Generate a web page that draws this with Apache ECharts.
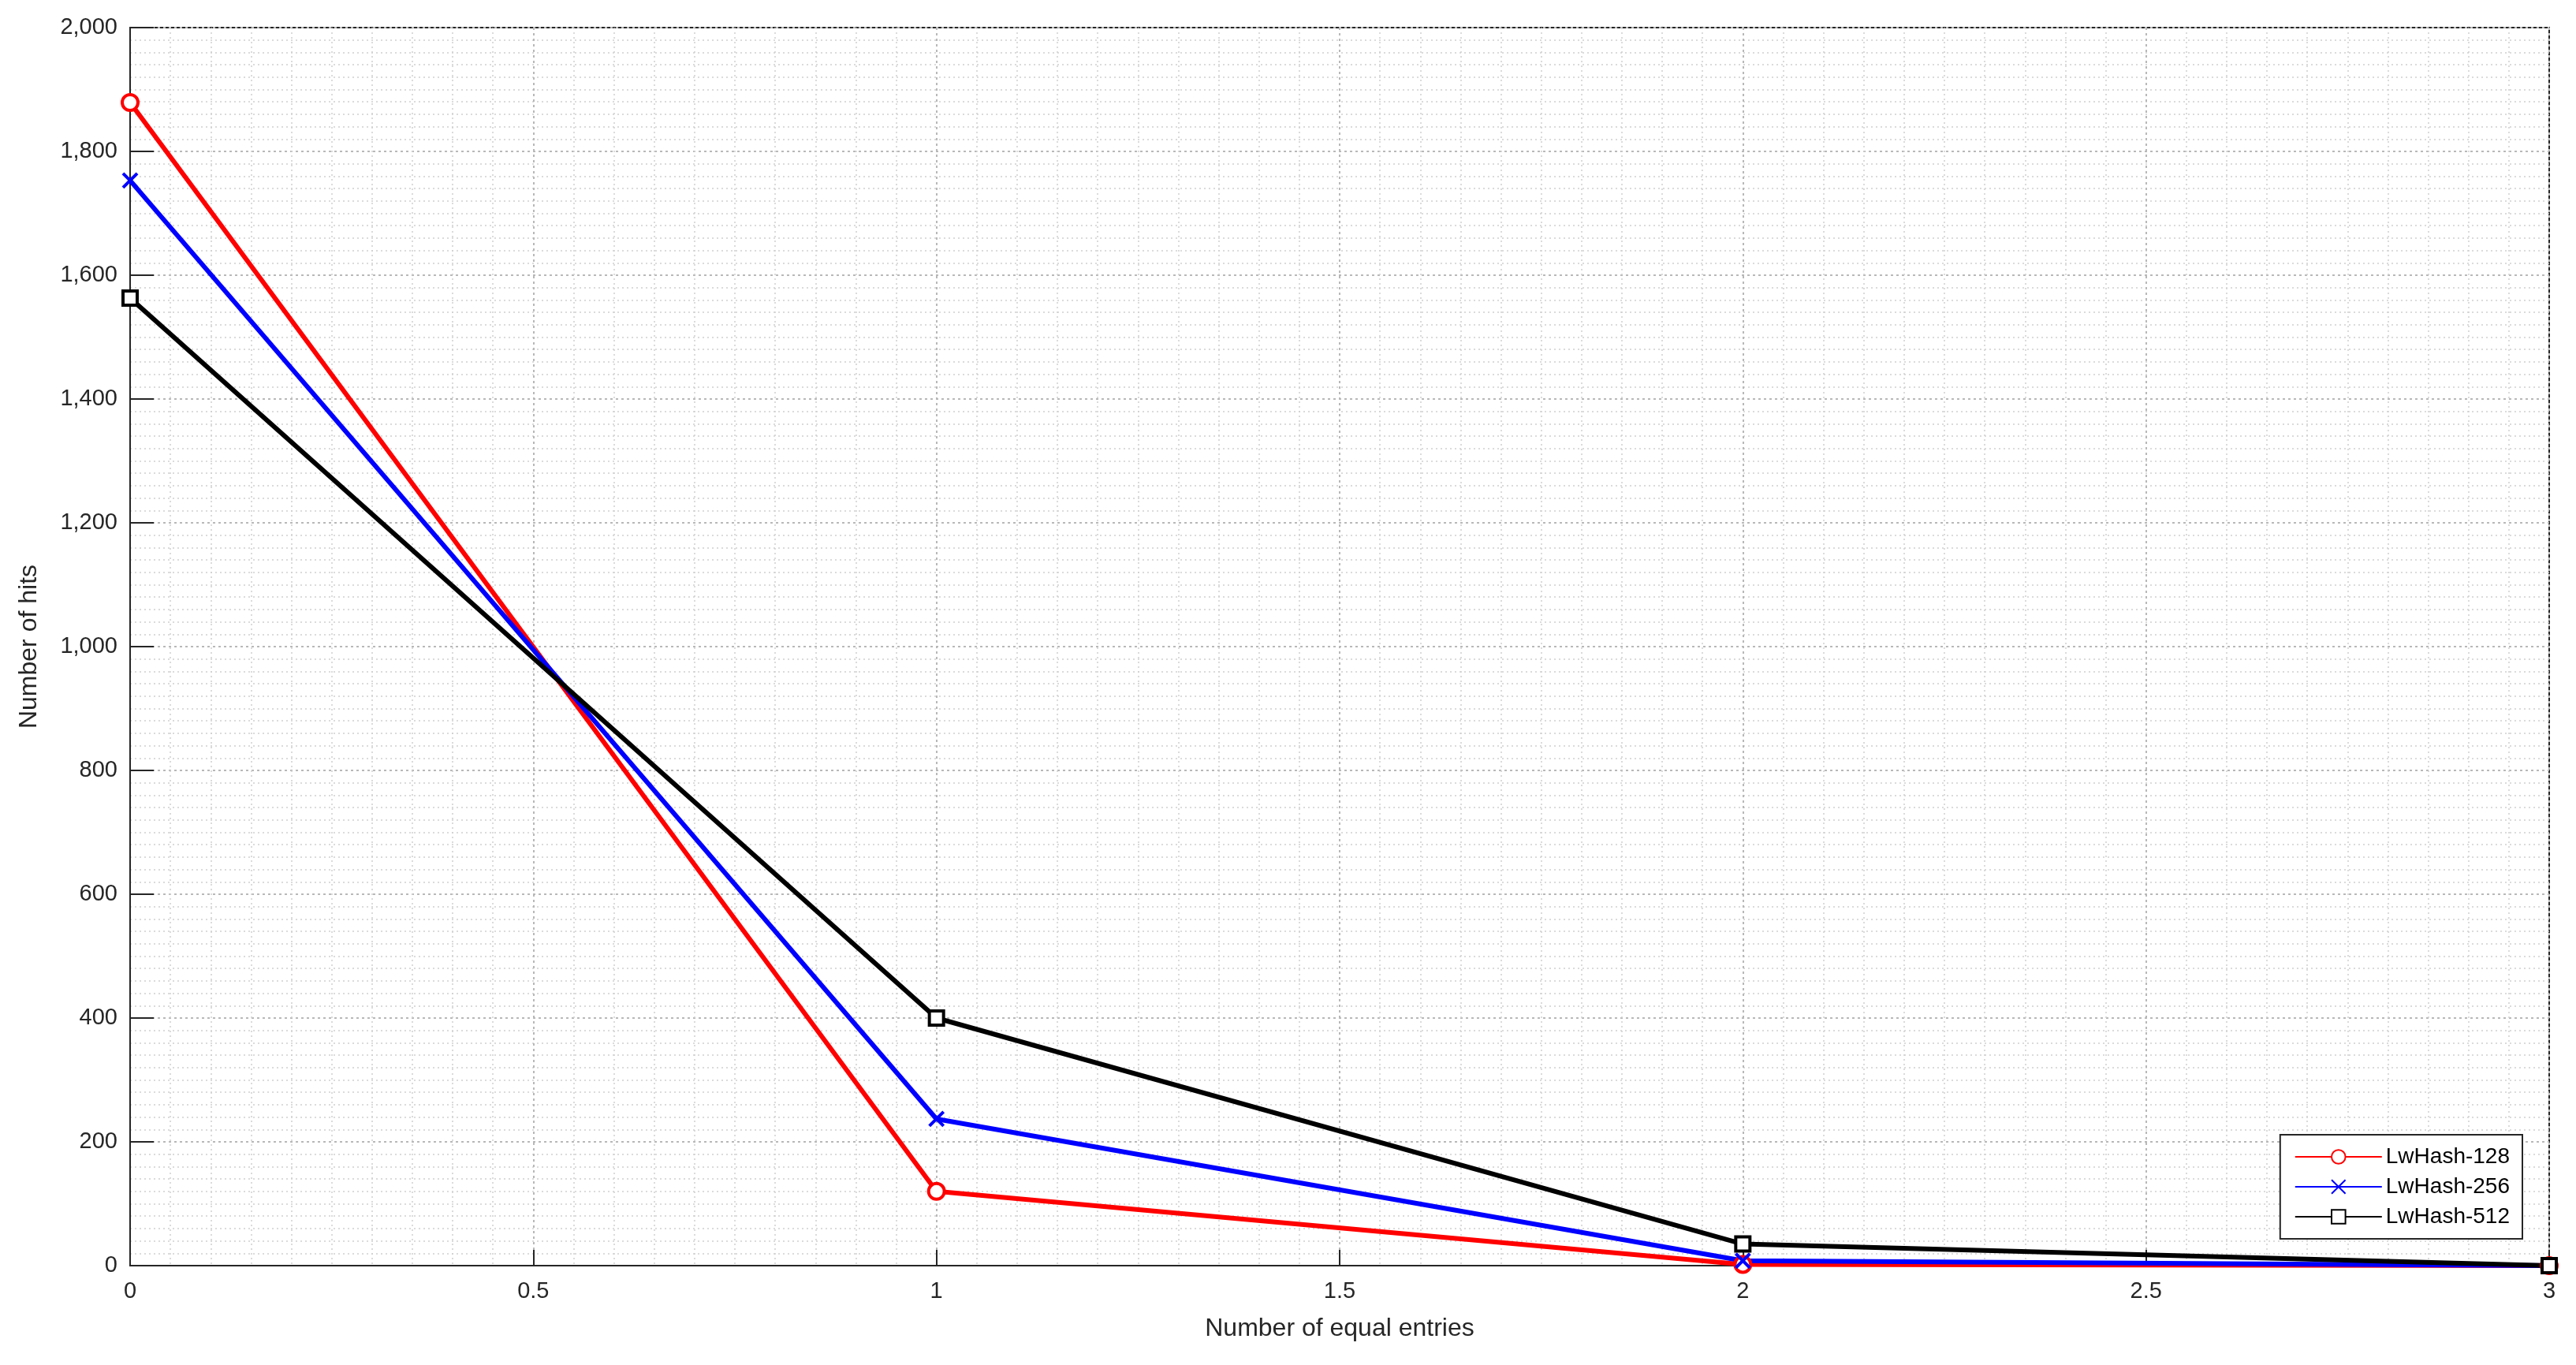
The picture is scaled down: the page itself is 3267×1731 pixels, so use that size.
<!DOCTYPE html>
<html>
<head>
<meta charset="utf-8">
<script src="https://cdn.jsdelivr.net/npm/echarts@6/dist/echarts.min.js"></script>
<style>html,body{margin:0;padding:0;background:#fff}#chart{width:3267px;height:1731px}</style>
</head>
<body>
<div id="chart"></div>
<script>
var entries = [0, 1, 2, 3];
var lw128 = [1879, 120, 2, 0];
var lw256 = [1753, 237, 8, 0];
var lw512 = [1563, 400, 35, 0];
var names = ['LwHash-128', 'LwHash-256', 'LwHash-512'];

var myChart = echarts.init(document.getElementById('chart'));
var font = 'Liberation Sans';

function pairs(vals) {
    return entries.map(function (x, i) { return [x, vals[i]]; });
}
function mkSeries(name, vals, color, symbol, size) {
    return {
        name: name,
        type: 'line',
        data: pairs(vals),
        symbol: symbol,
        symbolSize: size,
        showSymbol: true,
        lineStyle: { color: color, width: 6 },
        itemStyle: { color: '#fff', borderColor: color, borderWidth: 4 },
        emphasis: { disabled: true },
        animation: false
    };
}
var gridLine = { show: true, lineStyle: { color: '#b8b8b8', type: [3, 4], width: 2 } };
var minorLine = { show: true, lineStyle: { color: '#d0d0d0', type: [2, 4], width: 1.5 } };

var option = {
    backgroundColor: '#fff',
    grid: { left: 165, right: 34, top: 35, bottom: 126, show: true, borderColor: '#262626', borderWidth: 2 },
    legend: {
        orient: 'vertical', right: 68, bottom: 160,
        data: names,
        backgroundColor: '#fff', borderColor: '#262626', borderWidth: 2,
        padding: [14, 16, 14, 18], itemGap: 10, itemWidth: 110, itemHeight: 22,
        textStyle: { fontFamily: font, fontSize: 28, color: '#000' }
    },
    xAxis: {
        type: 'value', min: 0, max: 3, interval: 0.5,
        name: 'Number of equal entries', nameLocation: 'middle', nameGap: 64,
        nameTextStyle: { fontFamily: font, fontSize: 32, color: '#262626' },
        axisLine: { lineStyle: { color: '#262626', width: 2 } },
        axisTick: { inside: true, length: 20, lineStyle: { color: '#262626', width: 2 } },
        axisLabel: { fontFamily: font, fontSize: 29, color: '#262626', margin: 18 },
        splitLine: gridLine,
        minorTick: { show: false, splitNumber: 10 },
        minorSplitLine: minorLine
    },
    yAxis: {
        type: 'value', min: 0, max: 2000, interval: 200,
        name: 'Number of hits', nameLocation: 'middle', nameGap: 112,
        nameTextStyle: { fontFamily: font, fontSize: 32, color: '#262626' },
        axisLine: { show: true, lineStyle: { color: '#262626', width: 2 } },
        axisTick: { show: true, inside: true, length: 30, lineStyle: { color: '#262626', width: 2 } },
        axisLabel: { fontFamily: font, fontSize: 29, color: '#262626', margin: 16 },
        splitLine: gridLine,
        minorTick: { show: false, splitNumber: 10 },
        minorSplitLine: minorLine
    },
    series: [
        mkSeries(names[0], lw128, '#ff0000', 'circle', 20),
        mkSeries(names[1], lw256, '#0000ff', 'path://M0,0L10,10M10,0L0,10', 18),
        mkSeries(names[2], lw512, '#000000', 'rect', 18)
    ]
};
myChart.setOption(option);
</script>
</body>
</html>
